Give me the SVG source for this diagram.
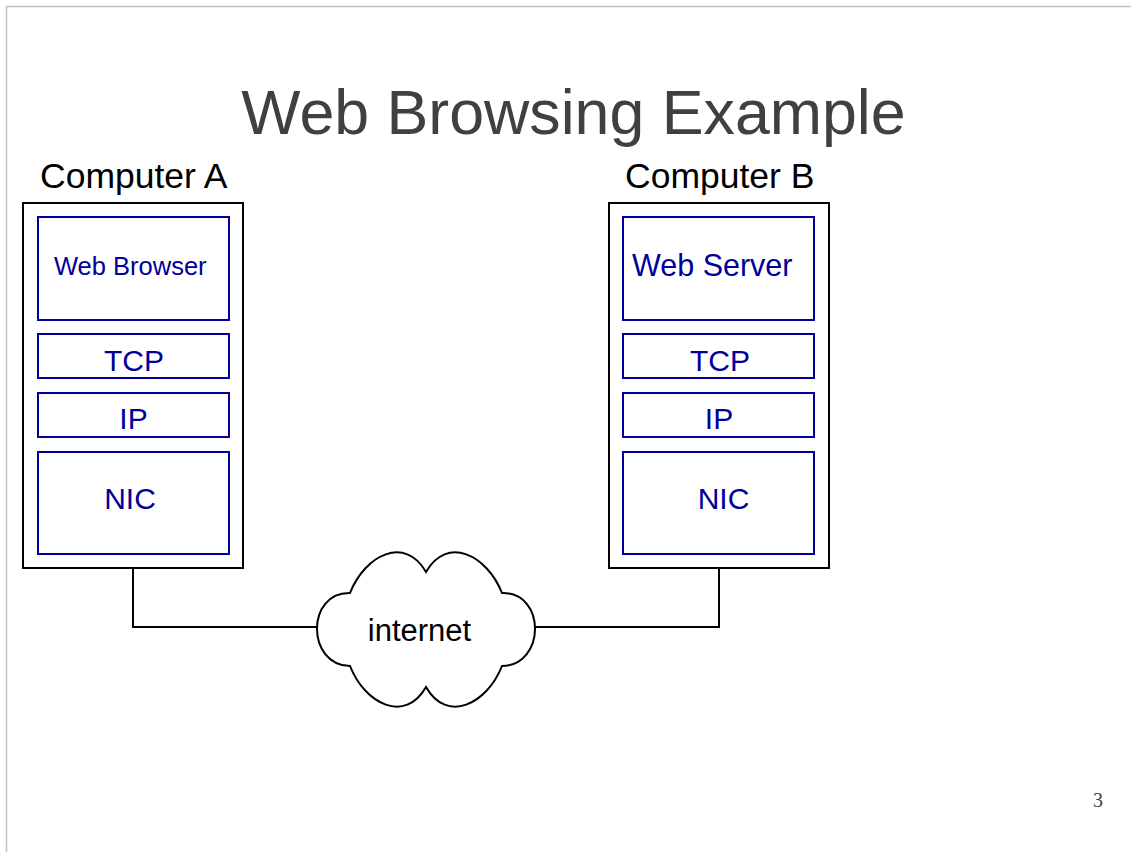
<svg xmlns="http://www.w3.org/2000/svg" width="1131" height="852" viewBox="0 0 1131 852">
  <style>
    .outer { fill: #ffffff; stroke: #000000; stroke-width: 2; }
    .layer { fill: #ffffff; stroke: #000099; stroke-width: 2; }
    .ltxt { font-family: "Liberation Sans", Arial, sans-serif; fill: #000099; }
    .lbl { font-family: "Liberation Sans", Arial, sans-serif; fill: #000000; }
    .wire { fill: none; stroke: #000000; stroke-width: 2; }
  </style>
  <rect x="0" y="0" width="1131" height="852" fill="#ffffff"/>
  <path d="M 6.5 852 L 6.5 6.5 L 1131 6.5" fill="none" stroke="#c0c0c0" stroke-width="1.5"/>
  <text x="573.5" y="134" text-anchor="middle" font-family="Liberation Sans, Arial, sans-serif" font-size="62.7" fill="#404040">Web Browsing Example</text>
  <text x="1098" y="807" text-anchor="middle" font-family="Liberation Serif, Times New Roman, serif" font-size="20" fill="#404040">3</text>

  <g id="connectors">
    <polyline class="wire" points="133,568 133,627 318,627"/>
    <polyline class="wire" points="535,627 719,627 719,568"/>
  </g>

  <g id="computerA">
    <text class="lbl" x="40" y="188" font-size="35.5">Computer A</text>
    <rect class="outer" x="23" y="203" width="220" height="365"/>
    <rect class="layer" x="38" y="217" width="191" height="103"/>
    <text class="ltxt" x="54" y="275" font-size="25.5">Web Browser</text>
    <rect class="layer" x="38" y="334" width="191" height="44"/>
    <text class="ltxt" x="134" y="371" font-size="30" text-anchor="middle">TCP</text>
    <rect class="layer" x="38" y="393" width="191" height="44"/>
    <text class="ltxt" x="133.5" y="429" font-size="30" text-anchor="middle">IP</text>
    <rect class="layer" x="38" y="452" width="191" height="102"/>
    <text class="ltxt" x="130" y="509" font-size="30" text-anchor="middle">NIC</text>
  </g>

  <g id="computerB">
    <text class="lbl" x="625" y="188" font-size="35.5">Computer B</text>
    <rect class="outer" x="609" y="203" width="220" height="365"/>
    <rect class="layer" x="623" y="217" width="191" height="103"/>
    <text class="ltxt" x="632" y="276" font-size="30.5">Web Server</text>
    <rect class="layer" x="623" y="334" width="191" height="44"/>
    <text class="ltxt" x="720" y="371" font-size="30" text-anchor="middle">TCP</text>
    <rect class="layer" x="623" y="393" width="191" height="44"/>
    <text class="ltxt" x="719" y="429" font-size="30" text-anchor="middle">IP</text>
    <rect class="layer" x="623" y="452" width="191" height="102"/>
    <text class="ltxt" x="723.5" y="509" font-size="30" text-anchor="middle">NIC</text>
  </g>

  <g id="internet">
    <path d="M 350 593 C 365 555, 405 535, 426 572 C 447 535, 487 555, 502 593 C 546 592, 546 665, 502 666 C 487 704, 447 724, 426 687 C 405 724, 365 704, 350 666 C 306 665, 306 592, 350 593 Z" fill="#ffffff" stroke="#000000" stroke-width="2"/>
    <text class="lbl" x="419.5" y="641" font-size="31" text-anchor="middle">internet</text>
  </g>
</svg>
